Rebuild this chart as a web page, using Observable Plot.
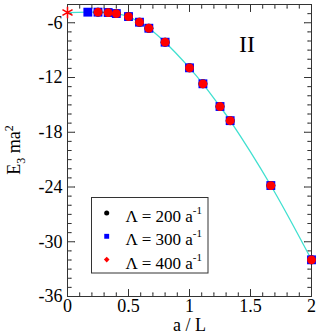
<!DOCTYPE html>
<html>
<head>
<meta charset="utf-8">
<script src="https://cdn.jsdelivr.net/npm/d3@7"></script>
<script src="https://cdn.jsdelivr.net/npm/@observablehq/plot@0.6"></script>
<style>
  html, body { margin: 0; padding: 0; background: white; }
  svg text { font-family: 'Liberation Serif', 'Times New Roman', serif !important; }
  svg [aria-label$="tick label"] text, svg [aria-label$="tick label"] { font-size: 18px !important; font-family: 'Liberation Serif', serif !important; }
  svg [aria-label$="axis label"] text, svg [aria-label$="axis label"] { font-size: 18px !important; }
</style>
</head>
<body>
<div id="chart"></div>
<script>
// ---- data ----
const aOverL = [1/6, 0.25, 1/3, 0.4, 0.5, 0.59, 2/3, 0.8, 1.0, 1.11, 1.25, 4/3, 5/3, 2.0];
const e200 = [null, -4.84, -4.88, -4.99, -5.32, -5.94, -6.60, -8.13, -10.94, -12.69, -15.18, -16.73, -23.84, -31.98];
const e300 = [-4.84, -4.84, -4.88, -4.99, -5.32, -5.94, -6.60, -8.13, -10.94, -12.69, -15.18, -16.73, -23.84, -31.98];
const e400 = [null, -4.84, -4.88, -4.99, -5.32, -5.94, -6.60, -8.13, -10.94, -12.69, -15.18, -16.73, -23.84, -31.98];
const limitX = [0];
const limitE = [-4.88];
const legendLabels = ["200", "300", "400"];
const xMajor = [0, 0.5, 1, 1.5, 2];
const yMajor = [-36, -30, -24, -18, -12, -6];

const pts = (ys) => aOverL.map((x, i) => ({x, y: ys[i]})).filter(d => d.y != null);
const d200 = pts(e200), d300 = pts(e300), d400 = pts(e400);
const star = limitX.map((x, i) => ({x, y: limitE[i]}));
const fit = star.concat(d300);

const xMinor = d3.range(0, 2.0001, 0.1).filter(v => Math.abs(v * 2 - Math.round(v * 2)) > 1e-6);
const yMinor = d3.range(-36, -3.9999, 1).filter(v => v % 6 !== 0);
const axisColor = "#333";
const FONT = "'Liberation Serif', 'Times New Roman', serif";

const tickV = (data, k, anchor, rotate, len) => Plot.vector(data, {
  [k]: d => d, frameAnchor: anchor, length: len, rotate, anchor: "start", r: 0,
  stroke: axisColor, strokeWidth: 1
});

const chart = Plot.plot({
  width: 318, height: 335,
  marginLeft: 67, marginRight: 7, marginTop: 4, marginBottom: 39,
  x: {domain: [0, 2]},
  y: {domain: [-36, -4]},
  style: {fontFamily: FONT, fontSize: "17px", background: "white", color: "black"},
  marks: [
    Plot.axisX({ticks: xMajor, tickSize: 0, tickPadding: 3, tickFormat: d => String(d),
      label: "a / L", labelAnchor: "center", labelOffset: 34, labelArrow: "none",
      fontSize: 18, fontFamily: FONT}),
    Plot.axisY({ticks: yMajor, tickSize: 0, tickPadding: 5, tickFormat: d => String(d), label: null,
      fontSize: 18, fontFamily: FONT}),
    tickV(xMajor, "x", "bottom", 0, 7),
    tickV(xMinor, "x", "bottom", 0, 3.5),
    tickV(xMajor, "x", "top", 180, 7),
    tickV(xMinor, "x", "top", 180, 3.5),
    tickV(yMajor, "y", "left", 90, 7),
    tickV(yMinor, "y", "left", 90, 3.5),
    tickV(yMajor, "y", "right", -90, 7),
    tickV(yMinor, "y", "right", -90, 3.5),
    Plot.frame({stroke: axisColor, strokeWidth: 1}),
    Plot.line(fit, {x: "x", y: "y", stroke: "#40e0d0", strokeWidth: 1.3, curve: "catmull-rom"}),
    Plot.dot(d200, {x: "x", y: "y", symbol: "circle", fill: "black", r: 4.5}),
    Plot.dot(d300, {x: "x", y: "y", symbol: "square", fill: "blue", r: 5}),
    Plot.dot(d400, {x: "x", y: "y", symbol: "circle", fill: "red", r: 4.4}),
    Plot.dot(star, {x: "x", y: "y", symbol: "asterisk", stroke: "red", strokeWidth: 1.5, r: 5.5})
  ]
});
document.getElementById("chart").appendChild(chart);

const svg = d3.select(chart);
svg.selectAll('[aria-label$="tick label"] text').attr("font-size", 18).attr("font-family", FONT);

// y-axis label with sub/superscripts
const yl = svg.append("text")
  .attr("transform", "translate(20,150) rotate(-90)")
  .attr("text-anchor", "middle")
  .attr("font-family", FONT).attr("font-size", 18).attr("fill", "black");
yl.append("tspan").text("E");
yl.append("tspan").attr("font-size", 12).attr("dy", 5).text("3");
yl.append("tspan").attr("dy", -5).text(" ma");
yl.append("tspan").attr("font-size", 12).attr("dy", -7).text("2");

// panel label
svg.append("text").attr("x", 247).attr("y", 52).attr("text-anchor", "middle")
  .attr("font-family", FONT).attr("font-size", 24).attr("fill", "black").text("II");

// legend
const lg = svg.append("g");
lg.append("rect").attr("x", 91.5).attr("y", 197.5).attr("width", 116.5).attr("height", 75.5)
  .attr("fill", "white").attr("stroke", axisColor).attr("stroke-width", 1);
const legSym = [
  {type: d3.symbolCircle, size: 20, fill: "black"},
  {type: d3.symbolSquare, size: 24, fill: "blue"},
  {type: d3.symbolDiamond2, size: 20, fill: "red"}
];
legendLabels.forEach((lab, i) => {
  const cy = 213 + i * 23.3;
  lg.append("path").attr("d", d3.symbol(legSym[i].type, legSym[i].size)())
    .attr("transform", `translate(106.7,${cy})`).attr("fill", legSym[i].fill);
  const t = lg.append("text").attr("x", 125.5).attr("y", cy + 9)
    .attr("text-anchor", "start")
    .attr("font-family", FONT).attr("font-size", 17).attr("fill", "black");
  t.append("tspan").text(`Λ = ${lab} a`);
  t.append("tspan").attr("font-size", 11).attr("dy", -8).text("-1");
});
</script>
</body>
</html>
